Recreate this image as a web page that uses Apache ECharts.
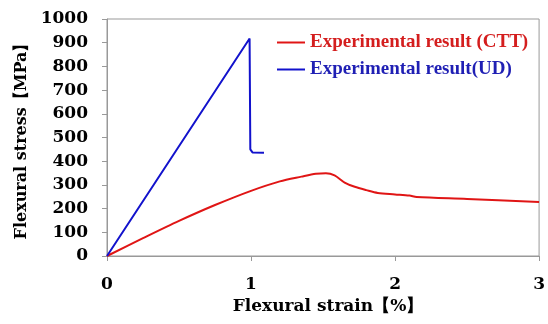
<!DOCTYPE html>
<html><head><meta charset="utf-8">
<script src="https://cdn.jsdelivr.net/npm/echarts@6/dist/echarts.min.js"></script>
<style>html,body{margin:0;padding:0;background:#fff}#c{width:548px;height:324px}</style>
</head><body><div id="c"></div>
<script>
// Experimental result (CTT): strain [%], stress [MPa]
const cttStrain = [0, 0.25, 0.5, 0.75, 1.0, 1.2, 1.35, 1.45, 1.52, 1.58, 1.65, 1.72, 1.8, 1.88, 2.0, 2.1, 2.15, 2.5, 3.0];
const cttStress = [0, 75, 148, 215, 275, 315, 335, 347, 349, 340, 310, 292, 278, 266, 260, 255, 249, 241, 228];
// Experimental result (UD)
const udStrain = [0, 0.99, 0.995, 1.01, 1.09];
const udStress = [0, 918, 450, 437, 436];
const xTicks = [0, 1, 2, 3];
const yTicks = [0, 100, 200, 300, 400, 500, 600, 700, 800, 900, 1000];
const names = ['Experimental result (CTT)', 'Experimental result(UD)'];

const font = 'DejaVu Serif';
const chart = echarts.init(document.getElementById('c'));
chart.setOption({
  animation: false,
  grid: {left: 107, right: 5, top: 19, bottom: 68, show: true, borderColor: '#999', borderWidth: 1},
  legend: {
    orient: 'vertical', left: 277, top: 33, itemGap: 8, padding: 0,
    itemWidth: 28, itemHeight: 2, icon: 'rect',
    data: [
      {name: names[0], textStyle: {color: '#d41e1e'}},
      {name: names[1], textStyle: {color: '#1f1fb4'}}
    ],
    textStyle: {fontFamily: 'Liberation Serif', fontWeight: 'bold', fontSize: 19, padding: [0, 0, 0, 0]}
  },
  xAxis: {
    type: 'value', min: xTicks[0], max: xTicks[xTicks.length - 1], interval: 1,
    name: 'Flexural strain【%】', nameLocation: 'middle', nameGap: 37,
    nameTextStyle: {fontFamily: font, fontWeight: 'bold', fontSize: 17, color: '#000', padding: [0, 0, 0, 10]},
    axisLine: {lineStyle: {color: '#999'}},
    axisTick: {show: true, length: 5, lineStyle: {color: '#999'}},
    axisLabel: {fontFamily: font, fontWeight: 'bold', fontSize: 17, color: '#000', margin: 20},
    splitLine: {show: false}
  },
  yAxis: {
    type: 'value', min: yTicks[0], max: yTicks[yTicks.length - 1], interval: 100,
    name: 'Flexural stress【MPa】', nameLocation: 'middle', nameGap: 57,
    nameTextStyle: {fontFamily: font, fontWeight: 'bold', fontSize: 16, color: '#000'},
    axisLine: {show: true, lineStyle: {color: '#999'}},
    axisTick: {show: true, length: 5, lineStyle: {color: '#999'}},
    axisLabel: {fontFamily: font, fontWeight: 'bold', fontSize: 17, color: '#000', margin: 19,
                formatter: v => String(v)},
    splitLine: {show: false}
  },
  series: [
    {name: names[0], type: 'line', showSymbol: false, smooth: 0.3, color: '#e01515',
     lineStyle: {width: 2}, data: cttStrain.map((x, i) => [x, cttStress[i]])},
    {name: names[1], type: 'line', showSymbol: false, color: '#1212cc',
     lineStyle: {width: 2}, data: udStrain.map((x, i) => [x, udStress[i]])}
  ]
});
</script></body></html>
